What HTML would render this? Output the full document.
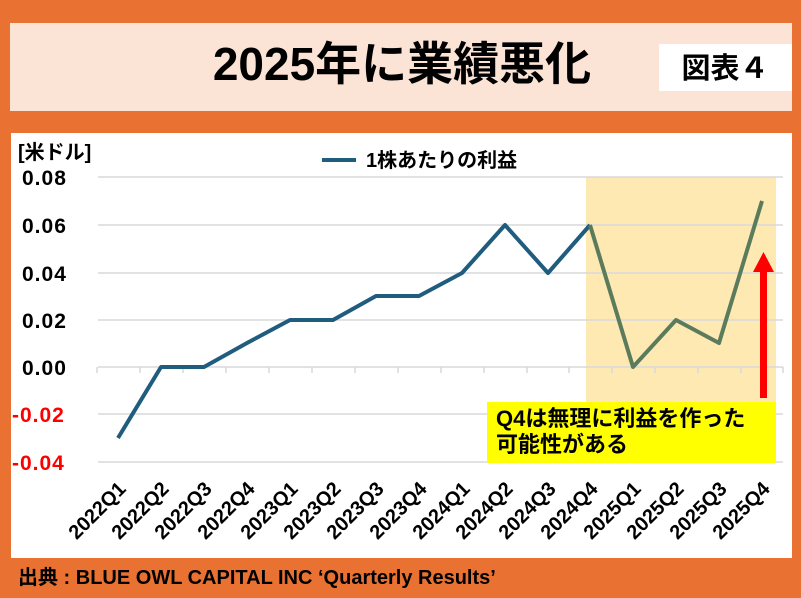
<!DOCTYPE html>
<html><head><meta charset="utf-8"><style>
body{margin:0;width:801px;height:598px;background:#E97132;overflow:hidden;font-family:"Liberation Sans","Noto Sans CJK JP",sans-serif;}
</style></head><body>
<svg width="801" height="598" xmlns="http://www.w3.org/2000/svg" style="position:absolute;left:0;top:0" font-family="Liberation Sans, Noto Sans CJK JP, sans-serif" font-weight="bold">
<rect x="0" y="0" width="801" height="598" fill="#E97132"/>
<rect x="10" y="23" width="782" height="88" fill="#FBE3D6"/>
<rect x="659" y="44" width="133" height="47" fill="#fff"/>
<text x="402" y="80" font-size="46" text-anchor="middle" fill="#000">2025年に業績悪化</text>
<text x="725" y="78" font-size="29" text-anchor="middle" fill="#000">図表４</text>
<rect x="11" y="133" width="781" height="425" fill="#fff"/>
<rect x="586" y="177" width="190" height="226" fill="#FFE9B3"/>
<g stroke="#D9D9D9" stroke-width="1.5">
<line x1="98" y1="177" x2="783" y2="177"/><line x1="98" y1="225" x2="783" y2="225"/>
<line x1="98" y1="273" x2="783" y2="273"/><line x1="98" y1="320" x2="783" y2="320"/>
<line x1="98" y1="367" x2="783" y2="367"/><line x1="98" y1="414" x2="783" y2="414"/>
<line x1="98" y1="462" x2="783" y2="462"/>
</g>
<g stroke="#D9D9D9" stroke-width="1.5">
<line x1="97" y1="367" x2="97" y2="373"/><line x1="140" y1="367" x2="140" y2="373"/><line x1="183" y1="367" x2="183" y2="373"/><line x1="226" y1="367" x2="226" y2="373"/><line x1="269" y1="367" x2="269" y2="373"/><line x1="312" y1="367" x2="312" y2="373"/><line x1="355" y1="367" x2="355" y2="373"/><line x1="398" y1="367" x2="398" y2="373"/><line x1="441" y1="367" x2="441" y2="373"/><line x1="484" y1="367" x2="484" y2="373"/><line x1="527" y1="367" x2="527" y2="373"/><line x1="569" y1="367" x2="569" y2="373"/><line x1="612" y1="367" x2="612" y2="373"/><line x1="655" y1="367" x2="655" y2="373"/><line x1="698" y1="367" x2="698" y2="373"/><line x1="741" y1="367" x2="741" y2="373"/><line x1="783" y1="367" x2="783" y2="373"/>
</g>
<text x="18" y="159" font-size="20" fill="#000">[米ドル]</text>
<g font-size="21" fill="#000" letter-spacing="1"><text x="22" y="185">0.08</text><text x="22" y="233">0.06</text><text x="22" y="281">0.04</text><text x="22" y="328">0.02</text><text x="22" y="375">0.00</text></g>
<g font-size="21" fill="#FF0000" letter-spacing="1"><text x="12" y="422">-0.02</text><text x="12" y="470">-0.04</text></g>
<line x1="322" y1="160" x2="356" y2="160" stroke="#1F5C7E" stroke-width="4"/>
<text x="366" y="167" font-size="20" fill="#000">1株あたりの利益</text>
<polyline fill="none" stroke="#1F5C7E" stroke-width="4" stroke-linejoin="round" points="118,438 161,367 204,367 247,343 290,320 333,320 376,296 419,296 462,273 505,225 548,273 590,225"/>
<polyline fill="none" stroke="#5A7B5C" stroke-width="4" stroke-linejoin="round" points="590,225 633,367 676,320 719,343 762,201"/>
<rect x="487" y="402" width="289" height="61" fill="#FFFF00"/>
<text x="496" y="426" font-size="22" fill="#000">Q4は無理に利益を作った</text>
<text x="496" y="452" font-size="22" fill="#000">可能性がある</text>
<rect x="760" y="270" width="7" height="128" fill="#FF0000"/>
<polygon points="763.5,252 753,272 774,272" fill="#FF0000"/>
<g font-size="20" fill="#000" text-anchor="end">
<text transform="translate(127,490) rotate(-45)">2022Q1</text>
<text transform="translate(170,490) rotate(-45)">2022Q2</text>
<text transform="translate(213,490) rotate(-45)">2022Q3</text>
<text transform="translate(256,490) rotate(-45)">2022Q4</text>
<text transform="translate(299,490) rotate(-45)">2023Q1</text>
<text transform="translate(342,490) rotate(-45)">2023Q2</text>
<text transform="translate(385,490) rotate(-45)">2023Q3</text>
<text transform="translate(428,490) rotate(-45)">2023Q4</text>
<text transform="translate(471,490) rotate(-45)">2024Q1</text>
<text transform="translate(514,490) rotate(-45)">2024Q2</text>
<text transform="translate(557,490) rotate(-45)">2024Q3</text>
<text transform="translate(599,490) rotate(-45)">2024Q4</text>
<text transform="translate(642,490) rotate(-45)">2025Q1</text>
<text transform="translate(685,490) rotate(-45)">2025Q2</text>
<text transform="translate(728,490) rotate(-45)">2025Q3</text>
<text transform="translate(771,490) rotate(-45)">2025Q4</text>
</g>
<text x="18" y="584" font-size="20" fill="#000">出典 : BLUE OWL CAPITAL INC ‘Quarterly Results’</text>
</svg>
</body></html>
